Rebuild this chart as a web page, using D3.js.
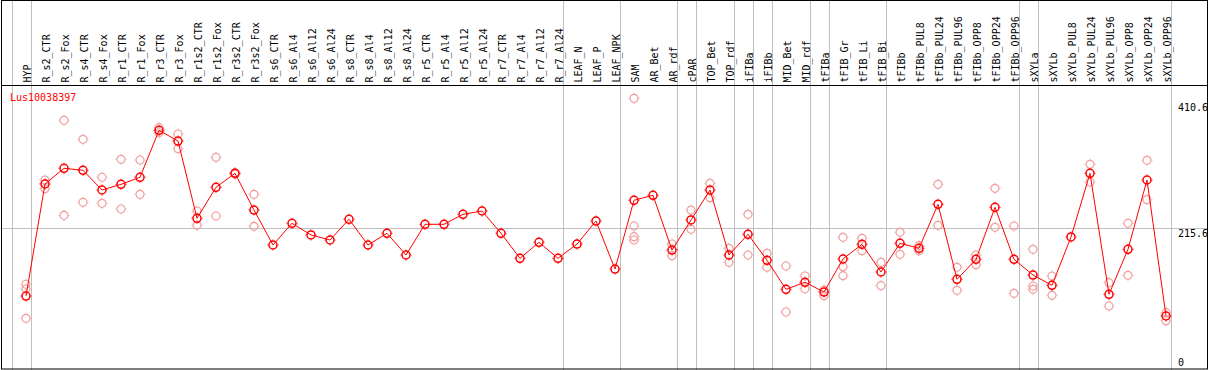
<!DOCTYPE html>
<html>
<head>
<meta charset="utf-8">
<script src="https://cdn.jsdelivr.net/npm/d3@7"></script>
<style>
  body { margin: 0; background: #fff; }
  text { font-family: "DejaVu Sans Mono", monospace; font-size: 10px; }
</style>
</head>
<body>
<div id="wrapper"></div>
<script>
const geneName = "Lus10038397";

const categories = [
  "HYP", "R_s2_CTR", "R_s2_Fox", "R_s4_CTR", "R_s4_Fox", "R_r1_CTR", "R_r1_Fox",
  "R_r3_CTR", "R_r3_Fox", "R_r1s2_CTR", "R_r1s2_Fox", "R_r3s2_CTR", "R_r3s2_Fox",
  "R_s6_CTR", "R_s6_Al4", "R_s6_Al12", "R_s6_Al24", "R_s8_CTR", "R_s8_Al4", "R_s8_Al12",
  "R_s8_Al24", "R_r5_CTR", "R_r5_Al4", "R_r5_Al12", "R_r5_Al24", "R_r7_CTR", "R_r7_Al4",
  "R_r7_Al12", "R_r7_Al24", "LEAF_N", "LEAF_P", "LEAF_NPK", "SAM", "AR_Bet", "AR_rdf",
  "cPAR", "TOP_Bet", "TOP_rdf", "iFIBa", "iFIBb", "MID_Bet", "MID_rdf", "tFIBa",
  "tFIB_Gr", "tFIB_Li", "tFIB_Bi", "tFIBb", "tFIBb_PUL8", "tFIBb_PUL24", "tFIBb_PUL96",
  "tFIBb_OPP8", "tFIBb_OPP24", "tFIBb_OPP96", "sXYLa", "sXYLb", "sXYLb_PUL8",
  "sXYLb_PUL24", "sXYLb_PUL96", "sXYLb_OPP8", "sXYLb_OPP24", "sXYLb_OPP96"
];

// mean expression per sample
const means = [
  110.3, 283.7, 308.0, 304.9, 274.4, 283.2, 294.1, 366.8, 350.2, 230.6, 278.6, 300.2, 243.4,
  189.3, 222.9, 204.8, 197.0, 229.1, 189.3, 207.4, 173.8, 221.3, 221.3, 236.8, 241.9,
  207.4, 168.7, 193.5, 168.7, 190.8, 226.4, 152.1, 258.5, 266.2, 181.5, 228.0, 274.4,
  173.8, 205.8, 165.6, 120.7, 131.6, 116.5, 167.6, 190.4, 147.5, 191.9, 184.2, 252.3,
  136.2, 167.1, 247.6, 167.1, 142.8, 126.9, 201.7, 300.2, 113.0, 182.6, 289.9, 79.4
];

// individual replicates per sample (empty when only one)
const replicates = [
  [128.5, 121.2, 75.8], [289.9, 276.4], [382.3, 235.2], [352.9, 255.4], [294.1, 253.8],
  [321.9, 245.0], [320.8, 267.7], [370.8, 363.0], [361.1, 338.3], [241.9, 219.8],
  [325.0, 234.2], [301.0, 299.0], [267.7, 218.2],
  [], [], [], [], [], [], [], [], [], [], [], [], [], [], [], [], [], [], [],
  [416.3, 218.7, 202.1, 197.0], [], [190.8, 172.7], [243.4, 213.6], [284.8, 262.5],
  [184.2, 162.5], [236.8, 173.8], [176.4, 154.8], [156.8, 85.6], [141.3, 121.6],
  [119.6, 110.8], [201.2, 155.7, 141.8], [199.6, 180.5], [162.5, 126.3], [208.9, 174.9],
  [188.2, 180.5], [283.2, 219.8], [154.8, 119.2], [173.8, 158.8], [277.0, 216.7],
  [218.7, 114.5], [182.6, 125.8, 120.7], [141.3, 111.4], [], [314.2, 286.8],
  [130.9, 94.9], [222.9, 142.4], [320.4, 259.4], [84.5, 72.1]
];

// group separators drawn just right of these samples
const separatorsAfter = [
  "HYP", "R_r7_Al24", "LEAF_NPK", "AR_rdf", "cPAR", "TOP_rdf", "iFIBa", "iFIBb",
  "MID_rdf", "tFIBa", "tFIB_Bi", "tFIBb_OPP96", "sXYLa", "sXYLb_OPP96"
];

const yTicks = [0, 215.6, 410.6];
const yGrid = [215.6];

const width = 1209;
const height = 370;
const headerBottom = 85;

const svg = d3.select("#wrapper")
  .append("svg")
  .attr("width", width)
  .attr("height", height);

const xScale = d3.scalePoint()
  .domain(categories)
  .range([26, 1166]);

const yScale = d3.scaleLinear()
  .domain([0, 410.6])
  .range([367.3, 102]);

// vertical separators (first one sits left of HYP)
const sepX = [xScale("HYP") - xScale.step()].concat(separatorsAfter.map(c => xScale(c)));
svg.append("g")
  .selectAll("line")
  .data(sepX)
  .join("line")
  .attr("x1", d => Math.round(d + 4.5) + 0.5)
  .attr("x2", d => Math.round(d + 4.5) + 0.5)
  .attr("y1", 0)
  .attr("y2", height)
  .attr("stroke", "#c0c0c0");

// horizontal grid
svg.append("g")
  .selectAll("line")
  .data(yGrid)
  .join("line")
  .attr("x1", 1)
  .attr("x2", width - 1)
  .attr("y1", d => Math.round(yScale(d)) + 0.5)
  .attr("y2", d => Math.round(yScale(d)) + 0.5)
  .attr("stroke", "#c0c0c0");

// frame
svg.append("rect")
  .attr("x", 1.5)
  .attr("y", 0.5)
  .attr("width", width - 3)
  .attr("height", height - 1.5)
  .attr("fill", "none")
  .attr("stroke", "black");

svg.append("line")
  .attr("x1", 1)
  .attr("x2", width - 1)
  .attr("y1", headerBottom + 0.5)
  .attr("y2", headerBottom + 0.5)
  .attr("stroke", "black");

// rotated sample labels
svg.append("g")
  .selectAll("text")
  .data(categories)
  .join("text")
  .attr("transform", d => `translate(${xScale(d) + 4.5}, 82.5) rotate(-90)`)
  .attr("text-anchor", "start")
  .attr("fill", "black")
  .text(d => d);

// y tick labels on the right
svg.append("g")
  .selectAll("text")
  .data(yTicks)
  .join("text")
  .attr("x", 1178)
  .attr("y", d => Math.min(yScale(d) + 9, 366))
  .attr("fill", "black")
  .text(d => d);

svg.append("text")
  .attr("x", 10)
  .attr("y", 100.5)
  .attr("fill", "red")
  .text(geneName);

const marker = (g, color, sw) => {
  g.append("circle")
    .attr("r", 4)
    .attr("fill", "none")
    .attr("stroke", color)
    .attr("stroke-width", sw);
  g.append("path")
    .attr("d", "M0,-5.5V-4.5M0,4.5V5.5M-5.5,0H-4.5M4.5,0H5.5")
    .attr("stroke", color)
    .attr("stroke-width", 1);
};

// replicate points
const repData = [];
categories.forEach((c, i) => replicates[i].forEach(v => repData.push({ c, v })));
svg.append("g")
  .selectAll("g")
  .data(repData)
  .join("g")
  .attr("transform", d => `translate(${xScale(d.c)}, ${yScale(d.v)})`)
  .each(function() { marker(d3.select(this), "#f0a0a0", 1.2); });

// mean line
const line = d3.line()
  .x((d, i) => xScale(categories[i]))
  .y(d => yScale(d));
svg.append("path")
  .datum(means)
  .attr("d", line)
  .attr("fill", "none")
  .attr("stroke", "red")
  .attr("stroke-width", 1);

svg.append("g")
  .selectAll("g")
  .data(means)
  .join("g")
  .attr("transform", (d, i) => `translate(${xScale(categories[i])}, ${yScale(d)})`)
  .each(function() { marker(d3.select(this), "red", 1.5); });
</script>
</body>
</html>
